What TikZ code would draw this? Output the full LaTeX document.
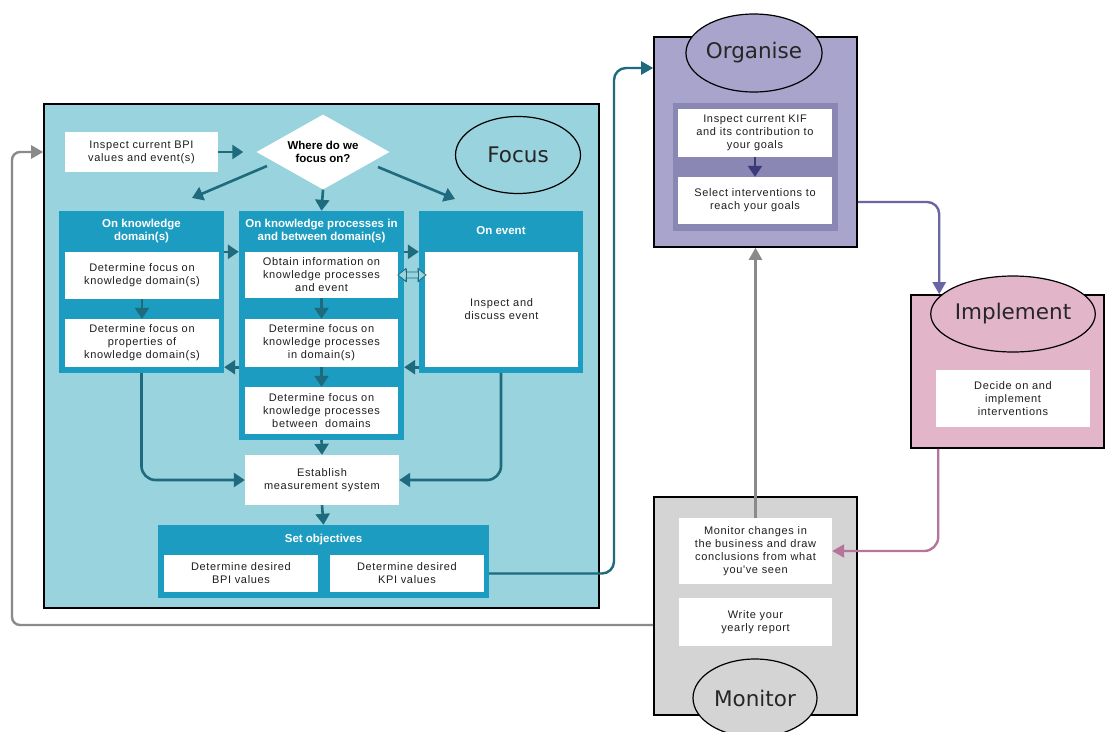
\documentclass[tikz,border=0pt]{standalone}
\usepackage{fontspec}
\setmainfont{Liberation Sans}
\newfontfamily\boxfont[LetterSpace=6]{Liberation Sans}
\newfontfamily\headfont{Liberation Sans}
\newfontfamily\bigfont{DejaVu Sans}
\usetikzlibrary{shapes.geometric,arrows.meta,calc}
\definecolor{focusbg}{HTML}{98D3DE}
\definecolor{colbox}{HTML}{1B9CC0}
\definecolor{tealarr}{HTML}{1D6B7D}
\definecolor{orgbg}{HTML}{A8A4CC}
\definecolor{orginner}{HTML}{8B87B4}
\definecolor{orgarr}{HTML}{3B3A77}
\definecolor{orgconn}{HTML}{6A66A3}
\definecolor{impbg}{HTML}{E2B5C9}
\definecolor{impconn}{HTML}{B5749A}
\definecolor{monbg}{HTML}{D4D4D4}
\definecolor{grayconn}{HTML}{8A8A8A}
\definecolor{txt}{HTML}{1E1E1E}
\tikzset{
  panel/.style={rectangle, draw=black, line width=1.6pt, inner sep=0},
  wbox/.style={rectangle, fill=white, inner sep=0, text=txt, align=center,
     font=\boxfont\fontsize{11}{13}\selectfont},
  colframe/.style={rectangle, fill=colbox, inner sep=0},
  hdr/.style={text=white, align=center, inner sep=0,
     font=\headfont\bfseries\fontsize{11.5}{13}\selectfont},
  phase/.style={ellipse, draw=black, line width=1.2pt, inner sep=0,
     text=black!85, font=\bigfont\fontsize{21.5}{25}\selectfont},
  farrow/.style={draw=tealarr, line width=2.6pt, -{Triangle[length=11pt,width=14pt]}},
  tconn/.style={draw=tealarr, line width=2.4pt, -{Triangle[length=12pt,width=13pt]}},
  oconn/.style={draw=orgconn, line width=2.4pt, -{Triangle[length=12pt,width=13pt]}},
  iconn/.style={draw=impconn, line width=2.4pt, -{Triangle[length=12pt,width=13pt]}},
  gconn/.style={draw=grayconn, line width=2.4pt, -{Triangle[length=12pt,width=13pt]}},
  dblarrow/.style={draw=tealarr, fill=focusbg, line width=0.8pt, line join=miter},
}
\begin{document}
\begin{tikzpicture}[x=1pt,y=-1pt]
\useasboundingbox (0,0) rectangle (1105,731);
\fill[white] (0,0) rectangle (1105,731);

% ---------------- Focus panel ----------------
\node[panel, fill=focusbg, minimum width=555, minimum height=504] (focuspanel) at (321.5,356) {};
\node[phase, minimum width=125, minimum height=77] (focuslbl) at (518,155) {Focus};

\node[wbox, minimum width=153, minimum height=40] (bpi) at (141.5,152) {Inspect current BPI\\values and event(s)};
\node[diamond, fill=white, inner sep=0, aspect=1.77, minimum width=133, minimum height=75,
      align=center, text=black, font=\headfont\bfseries\fontsize{11.5}{13}\selectfont] (dia) at (323,152) {Where do we\\focus on?};

% column 1
\node[colframe, minimum width=165, minimum height=162] (col1) at (141.5,292) {};
\node[hdr] (c1h) at (141.5,231.5) {On knowledge\\domain(s)};
\node[wbox, minimum width=154, minimum height=47] (c1a) at (142,275.5) {Determine focus on\\knowledge domain(s)};
\node[wbox, minimum width=154, minimum height=48] (c1b) at (142,343) {Determine focus on\\properties of\\knowledge domain(s)};

% column 2
\node[colframe, minimum width=165, minimum height=229] (col2) at (321.5,325.5) {};
\node[hdr] (c2h) at (321.5,231.5) {On knowledge processes in\\and between domain(s)};
\node[wbox, minimum width=153, minimum height=46] (c2a) at (321.5,275) {Obtain information on\\knowledge processes\\and event};
\node[wbox, minimum width=153, minimum height=48] (c2b) at (321.5,343) {Determine focus on\\knowledge processes\\in domain(s)};
\node[wbox, minimum width=153, minimum height=47] (c2c) at (321.5,410.5) {Determine focus on\\knowledge processes\\between\ \ domains};

% column 3
\node[colframe, minimum width=164, minimum height=162] (col3) at (501,292) {};
\node[hdr] (c3h) at (501,231) {On event};
\node[wbox, minimum width=153, minimum height=115] (c3a) at (501.5,309.5) {Inspect and\\discuss event};

% hollow double arrow between the two columns
\draw[dblarrow] (398,275) -- (406,268.5) -- (406,272) -- (418,272) -- (418,268.5) -- (426,275)
   -- (418,281.5) -- (418,278) -- (406,278) -- (406,281.5) -- cycle;
\draw[draw=tealarr, line width=0.8pt] (406,268.5) -- (406,281.5) (418,268.5) -- (418,281.5);

% establish & objectives
\node[wbox, minimum width=154, minimum height=50] (est) at (322,480) {Establish\\measurement system};
\node[colframe, minimum width=331, minimum height=73] (setobj) at (323.5,561.5) {};
\node[hdr] (soh) at (323.5,540) {Set objectives};
\node[wbox, minimum width=154, minimum height=37] (so1) at (241,573.5) {Determine desired\\BPI values};
\node[wbox, minimum width=154, minimum height=37] (so2) at (407,573.5) {Determine desired\\KPI values};

% focus arrows
\coordinate (dl1) at (267,166);
\coordinate (dl2) at (192,198);
\coordinate (dr1) at (378,167);
\coordinate (dr2) at (455,199);
\draw[farrow, shorten >=13pt] (bpi.east) -- (dia.west);
\draw[farrow] (dl1) -- (dl2);
\draw[farrow] (dr1) -- (dr2);
\draw[farrow] (dia.south) -- (col2.north);
\draw[farrow] (c1a.south) -- (c1b.north);
\draw[farrow] (c2a.south) -- (c2b.north);
\draw[farrow] (c2b.south) -- (c2c.north);
\draw[farrow] (col1.east |- c1a.north) -- (col2.west |- c1a.north);
\draw[farrow] (col2.east |- c2a.north) -- (col3.west |- c2a.north);
\draw[farrow] (col2.west |- c1b.south) -- (col1.east |- c1b.south);
\draw[farrow] (col3.west |- c3a.south) -- (col2.east |- c3a.south);
\draw[farrow] (col2.south) -- (est.north);
\draw[farrow, rounded corners=14pt] (col1.south) |- (est.west);
\draw[farrow, rounded corners=14pt] (col3.south) |- (est.east);
\draw[farrow] (est.south) -- (setobj.north);

% ---------------- Organise ----------------
\node[panel, fill=orgbg, minimum width=203, minimum height=210] (orgpanel) at (755.5,142) {};
\node[phase, fill=orgbg, minimum width=124, minimum height=78] (orglbl) at (754,53) {Organise};
\node[rectangle, fill=orginner, inner sep=0, minimum width=165, minimum height=128] (orginn) at (755.5,167) {};
\node[wbox, minimum width=154, minimum height=48] (o1) at (755,133) {Inspect current KIF\\and its contribution to\\your goals};
\node[wbox, minimum width=154, minimum height=47] (o2) at (755,200.5) {Select interventions to\\reach your goals};
\draw[draw=orgarr, line width=2.6pt, -{Triangle[length=11pt,width=14pt]}] (o1.south) -- (o2.north);

% ---------------- Implement ----------------
\node[panel, fill=impbg, minimum width=193, minimum height=153] (impanel) at (1007.5,371.5) {};
\node[phase, fill=impbg, minimum width=124, minimum height=76] (implbl) at (1013,314) {Implement};
\node[wbox, minimum width=154, minimum height=57] (i1) at (1013,398.5) {Decide on and\\implement\\interventions};

% ---------------- Monitor ----------------
\node[panel, fill=monbg, minimum width=203, minimum height=218] (monpanel) at (755.5,606) {};
\node[wbox, minimum width=153, minimum height=66] (m1) at (755.5,551) {Monitor changes in\\the business and draw\\conclusions from what\\you've seen};
\node[wbox, minimum width=153, minimum height=48] (m2) at (755.5,622) {Write your\\yearly report};
\node[phase, fill=monbg, minimum width=124, minimum height=78] (monlbl) at (755,698) {Monitor};

% ---------------- cycle connectors ----------------
\coordinate (orgbend) at (614,68);
\coordinate (orgin) at (orgpanel.west |- orgbend);
\draw[tconn, rounded corners=12pt] (setobj.east |- so2.east) -| (orgbend) -- (orgin);

\coordinate (impin) at ($(impanel.north west)+(29,0)$);
\draw[oconn, rounded corners=12pt] (orgpanel.east |- 0,202) -| (impin);

\coordinate (impout) at ($(impanel.south west)+(28,0)$);
\draw[iconn, rounded corners=14pt] (impout) |- (m1.east);

\draw[gconn] (m1.north) -- (m1.north |- orgpanel.south);

\coordinate (lb) at (12,625);
\coordinate (lt) at (12,152);
\draw[gconn, rounded corners=8pt] (monpanel.west |- lb) -- (lb) -- (lt) -- (focuspanel.west |- lt);
\end{tikzpicture}
\end{document}
